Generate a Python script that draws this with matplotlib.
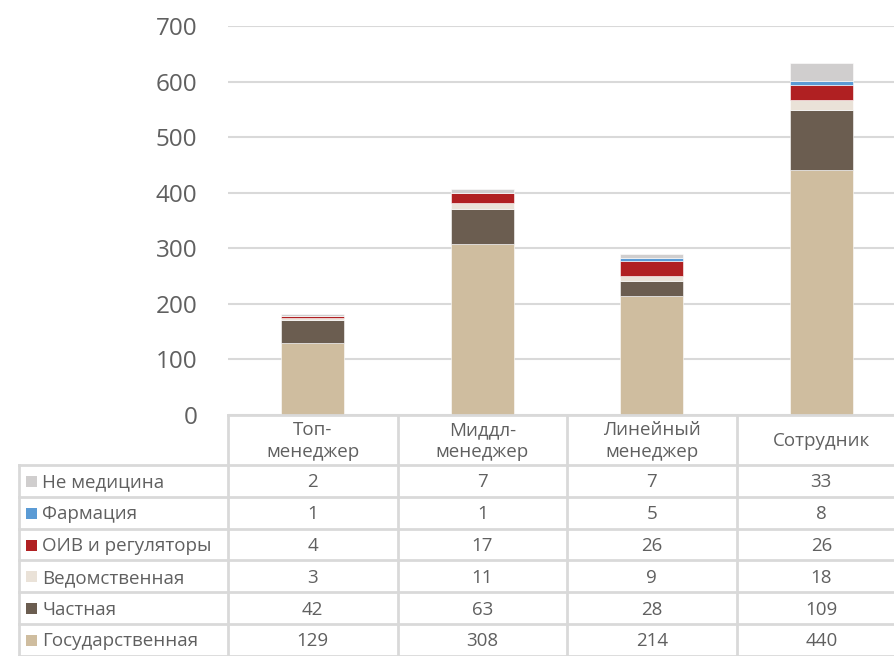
import numpy as np
import matplotlib.pyplot as plt
from matplotlib.patches import Rectangle

# data
categories = ['Топ-\nменеджер', 'Миддл-\nменеджер', 'Линейный\nменеджер', 'Сотрудник']
series_names = ['Государственная', 'Частная', 'Ведомственная', 'ОИВ и регуляторы', 'Фармация', 'Не медицина']
gos = [129, 308, 214, 440]
chast = [42, 63, 28, 109]
vedom = [3, 11, 9, 18]
oiv = [4, 17, 26, 26]
farm = [1, 1, 5, 8]
ne_med = [2, 7, 7, 33]
series = [gos, chast, vedom, oiv, farm, ne_med]
colors = ['#CFBD9F', '#6B5D50', '#EAE2D8', '#B02022', '#5B9BD5', '#D0CECE']
yticks = [0, 100, 200, 300, 400, 500, 600, 700]

plt.rcParams['font.family'] = ['Open Sans', 'DejaVu Sans']
txt = '#606060'
grid_c = '#D9D9D9'

W, H = 894, 656
fig = plt.figure(figsize=(W / 100, H / 100), dpi=100)

# layout in pixels
x0 = 228          # left edge of the plot area / first column
colw = 169.5      # column width
y_top = 26        # y of 700
y_zero = 415      # y of 0
row_h = 31.8
head_h = 50
leg_left = 19

ax = fig.add_axes([x0 / W, 1 - y_zero / H, (W - x0) / W, (y_zero - y_top) / H])
n = len(categories)
ax.set_xlim(-0.5, -0.5 + (W - x0) / colw)
ax.set_ylim(0, 700)
x = np.arange(n)
bottom = np.zeros(n)
for vals, c in zip(series, colors):
    ax.bar(x, vals, width=0.37, bottom=bottom, color=c, edgecolor='white', linewidth=0.4, zorder=3)
    bottom += np.array(vals)

ax.set_yticks(yticks)
ax.set_yticklabels([str(v) for v in yticks], fontsize=17.5, color=txt)
ax.tick_params(axis='y', length=0, pad=22)
ax.set_xticks([])
ax.grid(axis='y', color=grid_c, linewidth=1.5, zorder=0)
for s in ax.spines.values():
    s.set_visible(False)

# table drawn in pixel coordinates
tb = fig.add_axes([0, 0, 1, 1])
tb.set_xlim(0, W)
tb.set_ylim(H, 0)
tb.axis('off')
lw = 2

col_edges = [x0 + i * colw for i in range(n + 1)]
rows_top = y_zero + head_h
n_rows = len(series)

# horizontal lines
tb.plot([x0, W], [y_zero, y_zero], color=grid_c, lw=lw)
for i in range(n_rows + 1):
    yy = rows_top + i * row_h
    tb.plot([leg_left, W], [yy, yy], color=grid_c, lw=lw)
# vertical lines
tb.plot([leg_left, leg_left], [rows_top, H], color=grid_c, lw=lw)
for xe in col_edges:
    if xe <= W:
        tb.plot([xe, xe], [y_zero, H], color=grid_c, lw=lw)

fs = 13.5
# header
for i, cat in enumerate(categories):
    tb.text(x0 + (i + 0.5) * colw, y_zero + head_h / 2 + 1, cat, ha='center', va='center',
            fontsize=fs, color=txt, linespacing=1.3)

# rows: top row is the last series
for r in range(n_rows):
    k = n_rows - 1 - r
    yc = rows_top + (r + 0.5) * row_h + 1.5
    tb.add_patch(Rectangle((26, yc - 6.5), 11, 11, color=colors[k], lw=0))
    tb.text(42, yc, series_names[k], ha='left', va='center', fontsize=fs, color=txt)
    for i in range(n):
        tb.text(x0 + (i + 0.5) * colw, yc, str(series[k][i]), ha='center', va='center',
                fontsize=fs, color=txt)

fig.savefig('out.png', dpi=100)
